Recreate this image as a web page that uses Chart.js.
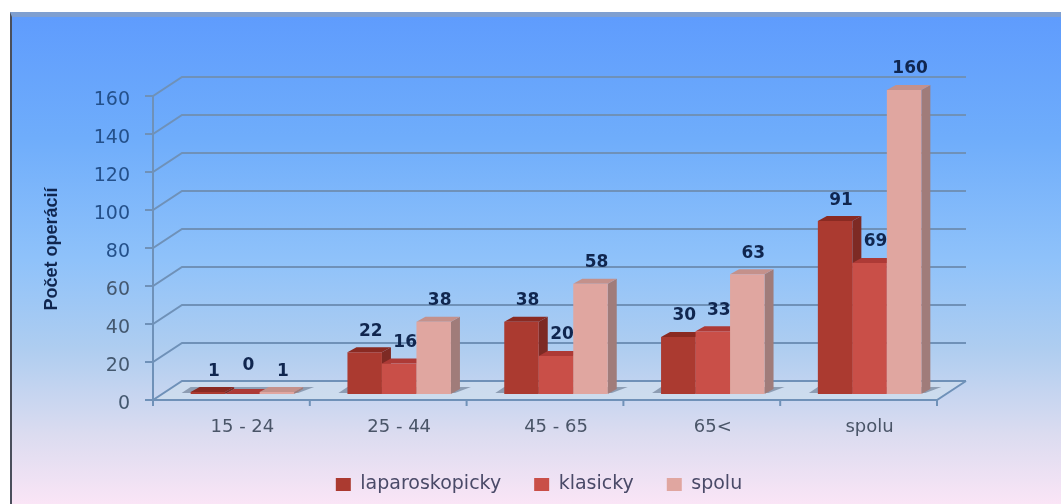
<!DOCTYPE html>
<html>
<head>
<meta charset="utf-8">
<title>Počet operácií</title>
<script src="https://cdn.jsdelivr.net/npm/chart.js@4/dist/chart.umd.min.js"></script>
<style>
  html, body { margin: 0; padding: 0; background: #fff; overflow: hidden; }
  #wrap { position: relative; width: 1061px; height: 504px; }
  #panel {
    position: absolute; left: 10px; top: 12px; right: 0; bottom: 0;
    border-left: 2px solid #4a4f5c; border-top: 5px solid #7f9fd0;
    box-sizing: border-box;
    background: linear-gradient(to bottom, #5f9cfd 0%, #6fadfb 25%, #8fc2fa 50%, #aecdf0 68%, #dcdcf0 86%, #fae5f6 100%);
  }
  canvas { position: absolute; left: 0; top: 0; filter: blur(0.5px); }
</style>
</head>
<body>
<div id="wrap">
  <div id="panel"></div>
  <canvas id="chart" width="1061" height="504"></canvas>
</div>
<script>
const ageGroups = ['15 - 24', '25 - 44', '45 - 65', '65<', 'spolu'];
const laparoskopicky = [1, 22, 38, 30, 91];
const klasicky = [0, 16, 20, 33, 69];
const spolu = [1, 38, 58, 63, 160];
const yTicks = [0, 20, 40, 60, 80, 100, 120, 140, 160];

// posun prednej hrany a zadnej steny oproti skutocnej oblasti grafu
const front = { dx: -11, dy: 6 };
const back = { dx: 18, dy: -13 };
const depth = { dx: 9, dy: -5 };

// bocna a horna stena stlpca
const sideColors = ['#7d2a24', '#9c3733', '#a07c7a'];
const topColors = ['#8a2a22', '#ad3a36', '#c4918b'];

function poly(ctx, pts, fill) {
  ctx.beginPath();
  pts.forEach(([x, y], i) => (i ? ctx.lineTo(x, y) : ctx.moveTo(x, y)));
  ctx.closePath();
  ctx.fillStyle = fill;
  ctx.fill();
}

const scene3d = {
  id: 'scene3d',
  afterLayout(chart) {
    // legenda sedi mimo stredu platna
    const lg = chart.legend;
    lg.left += 20;
    lg.right += 20;
    lg.top = 442;
  },
  beforeDatasetsDraw(chart) {
    const { ctx, chartArea: a, scales: { x, y } } = chart;
    const fl = a.left + front.dx, fr = a.right + front.dx;
    const bl = a.left + back.dx, br = a.right + back.dx;
    const y0 = y.getPixelForValue(0);
    ctx.save();

    // podlaha
    poly(ctx, [[fl, y0 + front.dy], [bl, y0 + back.dy], [br, y0 + back.dy], [fr, y0 + front.dy]], 'rgba(205,222,238,0.75)');

    // mriezka: zadna stena + sikme ciary k osi
    ctx.strokeStyle = '#6f91b8';
    ctx.lineWidth = 2;
    yTicks.forEach((v) => {
      const p = y.getPixelForValue(v);
      ctx.beginPath();
      ctx.moveTo(fl - 8, p + front.dy);
      ctx.lineTo(fl, p + front.dy);
      ctx.lineTo(bl, p + back.dy);
      ctx.lineTo(br, p + back.dy);
      ctx.stroke();
    });

    // zvisla os, predna hrana podlahy, pravy okraj
    ctx.beginPath();
    ctx.moveTo(fl, y.getPixelForValue(160) + front.dy);
    ctx.lineTo(fl, y0 + front.dy + 6);
    ctx.moveTo(fl, y0 + front.dy);
    ctx.lineTo(fr, y0 + front.dy);
    ctx.lineTo(br, y0 + back.dy);
    ctx.stroke();

    // ciarky na vodorovnej osi
    ageGroups.forEach((_, i) => {
      const t = x.getPixelForValue(i + 0.5) + front.dx;
      ctx.beginPath();
      ctx.moveTo(t, y0 + front.dy);
      ctx.lineTo(t, y0 + front.dy + 6);
      ctx.stroke();
    });

    // tien stlpcov na podlahe
    const first = chart.getDatasetMeta(0).data;
    const last = chart.getDatasetMeta(2).data;
    first.forEach((bar, i) => {
      const end = last[i];
      poly(ctx, [
        [bar.x - bar.width / 2 - 9, y0 - 1],
        [bar.x - bar.width / 2, y0 - 7],
        [end.x + end.width / 2 + 20, y0 - 7],
        [end.x + end.width / 2 + 4, y0 - 1],
      ], 'rgba(90,105,130,0.55)');
    });
    ctx.restore();
  },
  // serie sa kreslia zlava doprava, aby bocna stena zostala za susednym stlpcom
  beforeDatasetDraw: () => false,
  afterDatasetsDraw(chart) {
    const { ctx } = chart;
    ctx.save();
    chart.data.datasets.forEach((ds, di) => {
      chart.getDatasetMeta(di).data.forEach((bar) => {
        const l = bar.x - bar.width / 2, r = bar.x + bar.width / 2;
        poly(ctx, [[r, bar.y], [r + depth.dx, bar.y + depth.dy], [r + depth.dx, bar.base + depth.dy], [r, bar.base]], sideColors[di]);
        poly(ctx, [[l, bar.y], [l + depth.dx, bar.y + depth.dy], [r + depth.dx, bar.y + depth.dy], [r, bar.y]], topColors[di]);
        bar.draw(ctx);
      });
    });

    ctx.font = 'bold 17px "DejaVu Sans"';
    ctx.fillStyle = '#10264f';
    ctx.textAlign = 'center';
    ctx.textBaseline = 'middle';
    chart.data.datasets.forEach((ds, di) => {
      chart.getDatasetMeta(di).data.forEach((bar, i) => {
        const lift = ds.data[i] === 0 ? 28 : 21;
        ctx.fillText(String(ds.data[i]), bar.x + 6, bar.y - lift);
      });
    });

    // nazov osi Y
    ctx.translate(52, 249);
    ctx.rotate(-Math.PI / 2);
    ctx.font = 'bold 18px "Liberation Sans Narrow", "Liberation Sans"';
    ctx.fillText('Počet operácií', 0, 0);
    ctx.restore();
  },
};

new Chart(document.getElementById('chart'), {
  type: 'bar',
  data: {
    labels: ageGroups,
    datasets: [
      { label: 'laparoskopicky', data: laparoskopicky, backgroundColor: '#ab3a30' },
      { label: 'klasicky', data: klasicky, backgroundColor: '#c94f48' },
      { label: 'spolu', data: spolu, backgroundColor: '#e0a6a0' },
    ],
  },
  options: {
    responsive: false,
    animation: false,
    layout: { padding: { left: 90, right: 113, top: 90, bottom: 4 } },
    datasets: { bar: { barPercentage: 1, categoryPercentage: 0.66 } },
    scales: {
      x: {
        grid: { display: false },
        border: { display: false },
        afterFit: (s) => { s.height = 44; },
        ticks: { color: '#4a5568', padding: 15, maxRotation: 0, font: { family: '"DejaVu Sans"', size: 18 } },
      },
      y: {
        min: 0,
        max: 160,
        grid: { display: false },
        border: { display: false },
        afterFit: (s) => { s.width = 74; },
        afterBuildTicks: (s) => { s.ticks = yTicks.map((value) => ({ value })); },
        ticks: {
          padding: 26,
          labelOffset: 10,
          color: (c) => (c.tick.value > 70 ? '#24508a' : '#44586f'),
          font: { family: '"DejaVu Sans"', size: 19 },
        },
      },
    },
    plugins: {
      tooltip: { enabled: false },
      legend: {
        position: 'bottom',
        labels: {
          boxWidth: 15,
          boxHeight: 13,
          padding: 33,
          color: '#4a4a68',
          font: { family: '"DejaVu Sans"', size: 19 },
        },
      },
    },
  },
  plugins: [scene3d],
});
</script>
</body>
</html>
